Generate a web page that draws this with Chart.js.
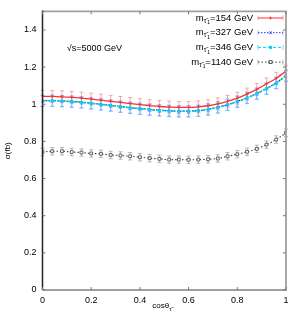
<!DOCTYPE html>
<html><head><meta charset="utf-8">
<script src="https://cdn.jsdelivr.net/npm/chart.js@4/dist/chart.umd.min.js"></script>
<style>html,body{margin:0;padding:0;background:#fff}#wrap{width:300px;height:315px}</style>
</head><body><div id="wrap"><canvas id="c" width="300" height="315"></canvas></div>
<script>
const cosTheta = [0,0.04,0.08,0.12,0.16,0.2,0.24,0.28,0.32,0.36,0.4,0.44,0.48,0.52,0.56,0.6,0.64,0.68,0.72,0.76,0.8,0.84,0.88,0.92,0.96,1.0];
const sigma154 = [1.043,1.042,1.040,1.037,1.033,1.028,1.022,1.016,1.010,1.004,0.998,0.993,0.988,0.985,0.983,0.983,0.986,0.992,1.002,1.016,1.033,1.055,1.080,1.110,1.140,1.178];
const err154 = 0.032;
const sigma327 = [1.020,1.020,1.018,1.015,1.011,1.006,1.000,0.994,0.988,0.982,0.977,0.972,0.968,0.965,0.963,0.963,0.966,0.973,0.984,0.998,1.015,1.035,1.058,1.085,1.115,1.155];
const err327 = 0.03;
const sigma346 = [1.018,1.018,1.016,1.013,1.009,1.004,0.998,0.992,0.986,0.980,0.975,0.970,0.966,0.963,0.961,0.961,0.964,0.971,0.982,0.996,1.013,1.033,1.056,1.083,1.113,1.152];
const err346 = 0.03;
const sigma1140 = [0.743,0.747,0.747,0.743,0.740,0.735,0.733,0.727,0.724,0.720,0.715,0.710,0.706,0.702,0.702,0.701,0.702,0.704,0.708,0.720,0.731,0.744,0.760,0.783,0.810,0.846];
const err1140 = 0.02;
const xTicks = [0,0.2,0.4,0.6,0.8,1];
const yTicks = [0,0.2,0.4,0.6,0.8,1,1.2,1.4];
const legendMasses = ["154","327","346","1140"];
const annotationText = "\u221As=5000 GeV";

const FONT = "Liberation Sans, Arial, sans-serif";
const pts = arr => cosTheta.map((x,i)=>({x, y: arr[i]}));

const series = [
  {data: sigma154, err: err154, line:'#ff3030', errColor:'rgba(255,110,110,0.6)', dash:[], width:1.3, style:'cross', pr:1.5, fill:false},
  {data: sigma346, err: err346, line:'#00d0ff', errColor:'rgba(60,200,255,0.65)', dash:[3,2], width:1.1, style:'rect', pr:1.6, fill:true},
  {data: sigma327, err: err327, line:'#2030ff', errColor:'rgba(120,140,255,0.55)', dash:[1.5,1.5], width:1.3, style:'crossRot', pr:1.5, fill:false},
  {data: sigma1140, err: err1140, line:'#444444', errColor:'rgba(140,140,140,0.6)', dash:[1.5,2], width:1.1, style:'rect', pr:2, fill:false}
];

const datasets = [];
series.forEach(s=>{
  datasets.push({data: pts(s.data), borderColor: s.line, backgroundColor: s.fill? s.line : '#fff',
    borderWidth: s.width, borderDash: s.dash, pointStyle: s.style, pointRadius: s.pr,
    pointBorderColor: s.line, pointBorderWidth: 0.8, tension: 0.4, cubicInterpolationMode:'monotone'});
});
datasets.splice(2,0,{data: pts(sigma327), borderColor:'#30c030', borderWidth:1.1, borderDash:[3,2], pointRadius:0, tension:0.4, cubicInterpolationMode:'monotone'});

const decor = {
  id:'decor',
  beforeDatasetsDraw(chart){
    const {ctx, scales:{x,y}} = chart;
    ctx.save();
    series.forEach(s=>{
      ctx.strokeStyle = s.errColor; ctx.lineWidth = 1;
      s.data.forEach((v,i)=>{
        const px = x.getPixelForValue(cosTheta[i]);
        const y1 = y.getPixelForValue(v - s.err), y2 = y.getPixelForValue(v + s.err);
        ctx.beginPath();
        ctx.moveTo(px,y1); ctx.lineTo(px,y2);
        ctx.moveTo(px-2,y1); ctx.lineTo(px+2,y1);
        ctx.moveTo(px-2,y2); ctx.lineTo(px+2,y2);
        ctx.stroke();
      });
    });
    ctx.restore();
  },
  afterDraw(chart){
    const {ctx, chartArea:a, scales:{x,y}} = chart;
    ctx.save();
    ctx.lineWidth = 1.8;
    ctx.strokeStyle = '#a0a0a0';
    ctx.beginPath();
    ctx.moveTo(a.left,a.top); ctx.lineTo(a.right,a.top); ctx.lineTo(a.right,a.bottom); ctx.lineTo(a.left,a.bottom);
    ctx.stroke();
    ctx.lineWidth = 1.5;
    ctx.strokeStyle = '#222';
    ctx.beginPath(); ctx.moveTo(a.left,a.top-0.9); ctx.lineTo(a.left,a.bottom); ctx.stroke();
    ctx.lineWidth = 1; ctx.strokeStyle = '#777';
    xTicks.forEach(t=>{
      const px = x.getPixelForValue(t);
      ctx.beginPath(); ctx.moveTo(px,a.bottom); ctx.lineTo(px,a.bottom-3);
      ctx.moveTo(px,a.top); ctx.lineTo(px,a.top+3); ctx.stroke();
    });
    yTicks.forEach(t=>{
      const py = y.getPixelForValue(t);
      ctx.beginPath(); ctx.moveTo(a.left,py); ctx.lineTo(a.left+3,py);
      ctx.moveTo(a.right,py); ctx.lineTo(a.right-3,py); ctx.stroke();
    });
    ctx.fillStyle = '#000';
    ctx.font = '9px ' + FONT;
    ctx.textBaseline = 'middle'; ctx.textAlign = 'left';
    ctx.fillText(annotationText, x.getPixelForValue(0.1), y.getPixelForValue(1.3));
    const cx = x.getPixelForValue(0.5);
    ctx.font = '8px ' + FONT;
    ctx.textAlign = 'right';
    ctx.fillText('cos\u03B8', cx+5, 306);
    ctx.font = '6px ' + FONT; ctx.textAlign = 'left';
    ctx.fillText('\u03C4\u0303', cx+5, 309);
    const lx = 253, lineX0 = 258, lineX1 = 283;
    legendMasses.forEach((m,i)=>{
      const s = i===0?series[0]: i===1?series[2]: i===2?series[1]:series[3];
      const ly = 18 + i*14.7;
      ctx.font = '9.5px ' + FONT; ctx.textAlign='right'; ctx.fillStyle='#000';
      const rest = '=' + m + ' GeV';
      const wRest = ctx.measureText(rest).width;
      ctx.fillText(rest, lx, ly);
      ctx.font = '6.5px ' + FONT;
      const wSub = ctx.measureText('\u03C41').width;
      ctx.textAlign='left';
      ctx.fillText('\u03C4\u0303', lx - wRest - wSub, ly+3);
      ctx.font = '5px ' + FONT;
      ctx.fillText('1', lx - wRest - wSub + 3.5, ly+5);
      ctx.font = '9.5px ' + FONT; ctx.textAlign='right';
      ctx.fillText('m', lx - wRest - wSub, ly);
      ctx.strokeStyle = s.errColor; ctx.lineWidth=1; ctx.setLineDash([]);
      ctx.beginPath(); ctx.moveTo(lineX0,ly-2.5); ctx.lineTo(lineX0,ly+2.5); ctx.moveTo(lineX1,ly-2.5); ctx.lineTo(lineX1,ly+2.5); ctx.stroke();
      ctx.strokeStyle = s.line; ctx.lineWidth = 1; ctx.setLineDash(s.dash);
      ctx.beginPath(); ctx.moveTo(lineX0,ly); ctx.lineTo(lineX1,ly); ctx.stroke();
      ctx.setLineDash([]);
      const mx = (lineX0+lineX1)/2;
      ctx.lineWidth = 0.8;
      ctx.beginPath();
      if(s.style==='cross'){ctx.moveTo(mx-1.5,ly);ctx.lineTo(mx+1.5,ly);ctx.moveTo(mx,ly-1.5);ctx.lineTo(mx,ly+1.5);ctx.stroke();}
      else if(s.style==='crossRot'){ctx.moveTo(mx-1.5,ly-1.5);ctx.lineTo(mx+1.5,ly+1.5);ctx.moveTo(mx-1.5,ly+1.5);ctx.lineTo(mx+1.5,ly-1.5);ctx.stroke();}
      else if(s.fill){ctx.fillStyle=s.line;ctx.fillRect(mx-1.5,ly-1.5,3,3);}
      else {ctx.strokeRect(mx-1.5,ly-1.5,3,3);}
    });
    ctx.restore();
  }
};

new Chart(document.getElementById('c'), {
  type:'line',
  data:{datasets},
  options:{
    responsive:false, animation:false, devicePixelRatio:1,
    layout:{padding:{top:10,right:14,left:0,bottom:0}},
    plugins:{legend:{display:false}, tooltip:{enabled:false}},
    scales:{
      x:{type:'linear', min:0, max:1,
        afterBuildTicks: s=>{ s.ticks = xTicks.map(v=>({value:v})); },
        afterFit: s=>{ s.height = 25; },
        grid:{display:false, drawTicks:false}, border:{display:false},
        ticks:{padding:5, maxRotation:0, color:'#000', font:{size:9, family:FONT}, callback:v=>String(v)}},
      y:{type:'linear', min:0, max:1.5,
        afterBuildTicks: s=>{ s.ticks = yTicks.map(v=>({value:v})); },
        afterFit: s=>{ s.width = 42.5; },
        grid:{display:false, drawTicks:false}, border:{display:false},
        title:{display:true, text:'\u03C3(fb)', color:'#000', font:{size:8, family:FONT}, padding:{top:3,bottom:0}},
        ticks:{padding:6, color:'#000', font:{size:9, family:FONT}, callback:v=>String(Math.round(v*10)/10)}}
    }
  },
  plugins:[decor]
});
</script></body></html>
